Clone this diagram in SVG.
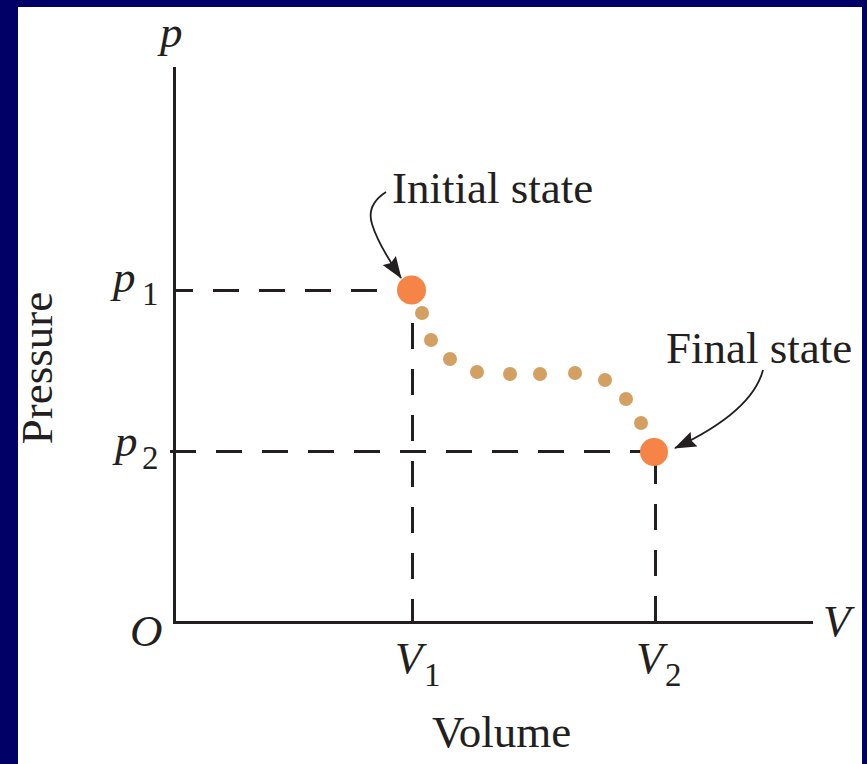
<svg xmlns="http://www.w3.org/2000/svg" width="867" height="764" viewBox="0 0 867 764">
<style>
.t{font-family:"Liberation Serif","Times New Roman",serif;fill:#231f20}
.lbl{font-size:45px}
.it{font-style:italic;font-size:45px}
.sub{font-size:33px}
.ax{stroke:#231f20;stroke-width:3;fill:none}
.dash{stroke:#231f20;stroke-width:3;fill:none;stroke-dasharray:26 20}
.lead{stroke:#231f20;stroke-width:1.8;fill:none}
.state{fill:#f58446}
.dot{fill:#d4a062}
</style>
<defs>
<marker id="ah" markerWidth="22" markerHeight="16" refX="21" refY="8" orient="auto" markerUnits="userSpaceOnUse" viewBox="0 0 22 16">
<path d="M0,0 L22,8 L0,16 L3,8 z" fill="#231f20"/>
</marker>
</defs>
<rect x="0" y="0" width="867" height="764" fill="#000066"/>
<rect x="18" y="7" width="844" height="757" fill="#ffffff"/>

<g id="axes">
<line class="ax" x1="174.5" y1="67" x2="174.5" y2="624"/>
<line class="ax" x1="173" y1="622.5" x2="813" y2="622.5"/>
<text class="t it" x="160" y="47">p</text>
<text class="t it" x="823" y="636">V</text>
<text class="t it" x="130" y="646">O</text>
<text class="t lbl" transform="translate(52,368) rotate(-90)" text-anchor="middle">Pressure</text>
<text class="t lbl" x="432" y="747">Volume</text>
</g>

<g id="guides">
<line class="dash" x1="174" y1="290.5" x2="378" y2="290.5" stroke-dashoffset="7"/>
<line class="dash" x1="170" y1="451.5" x2="642" y2="451.5"/>
<line class="dash" x1="412.5" y1="323" x2="412.5" y2="622"/>
<line class="dash" x1="655.5" y1="458" x2="655.5" y2="622"/>
</g>

<g id="ticks">
<text class="t it" x="113" y="292">p</text>
<text class="t sub" x="142" y="305">1</text>
<text class="t it" x="115" y="456">p</text>
<text class="t sub" x="142" y="469">2</text>
<text class="t it" x="395" y="673">V</text>
<text class="t sub" x="424" y="686">1</text>
<text class="t it" x="636" y="673">V</text>
<text class="t sub" x="665" y="686">2</text>
</g>

<g id="path">
<circle class="dot" cx="422" cy="313" r="7"/>
<circle class="dot" cx="431" cy="340" r="7"/>
<circle class="dot" cx="450" cy="359" r="7"/>
<circle class="dot" cx="477" cy="372" r="7"/>
<circle class="dot" cx="510" cy="374" r="7"/>
<circle class="dot" cx="540" cy="374" r="7"/>
<circle class="dot" cx="575" cy="373" r="7"/>
<circle class="dot" cx="605" cy="380" r="7"/>
<circle class="dot" cx="626" cy="399" r="7"/>
<circle class="dot" cx="641" cy="423" r="7"/>
</g>

<g id="initial-state">
<circle class="state" cx="411.5" cy="290" r="14.5"/>
<text class="t lbl" x="392" y="203">Initial state</text>
</g>

<g id="final-state">
<circle class="state" cx="654" cy="452" r="14"/>
<text class="t lbl" x="666" y="363">Final state</text>
</g>

<g id="connectors">
<path class="lead" d="M386,192 Q366,205 372,224 Q378,244 401,278" marker-end="url(#ah)"/>
<path class="lead" d="M763,370 Q752,412 675,448" marker-end="url(#ah)"/>
</g>
</svg>
